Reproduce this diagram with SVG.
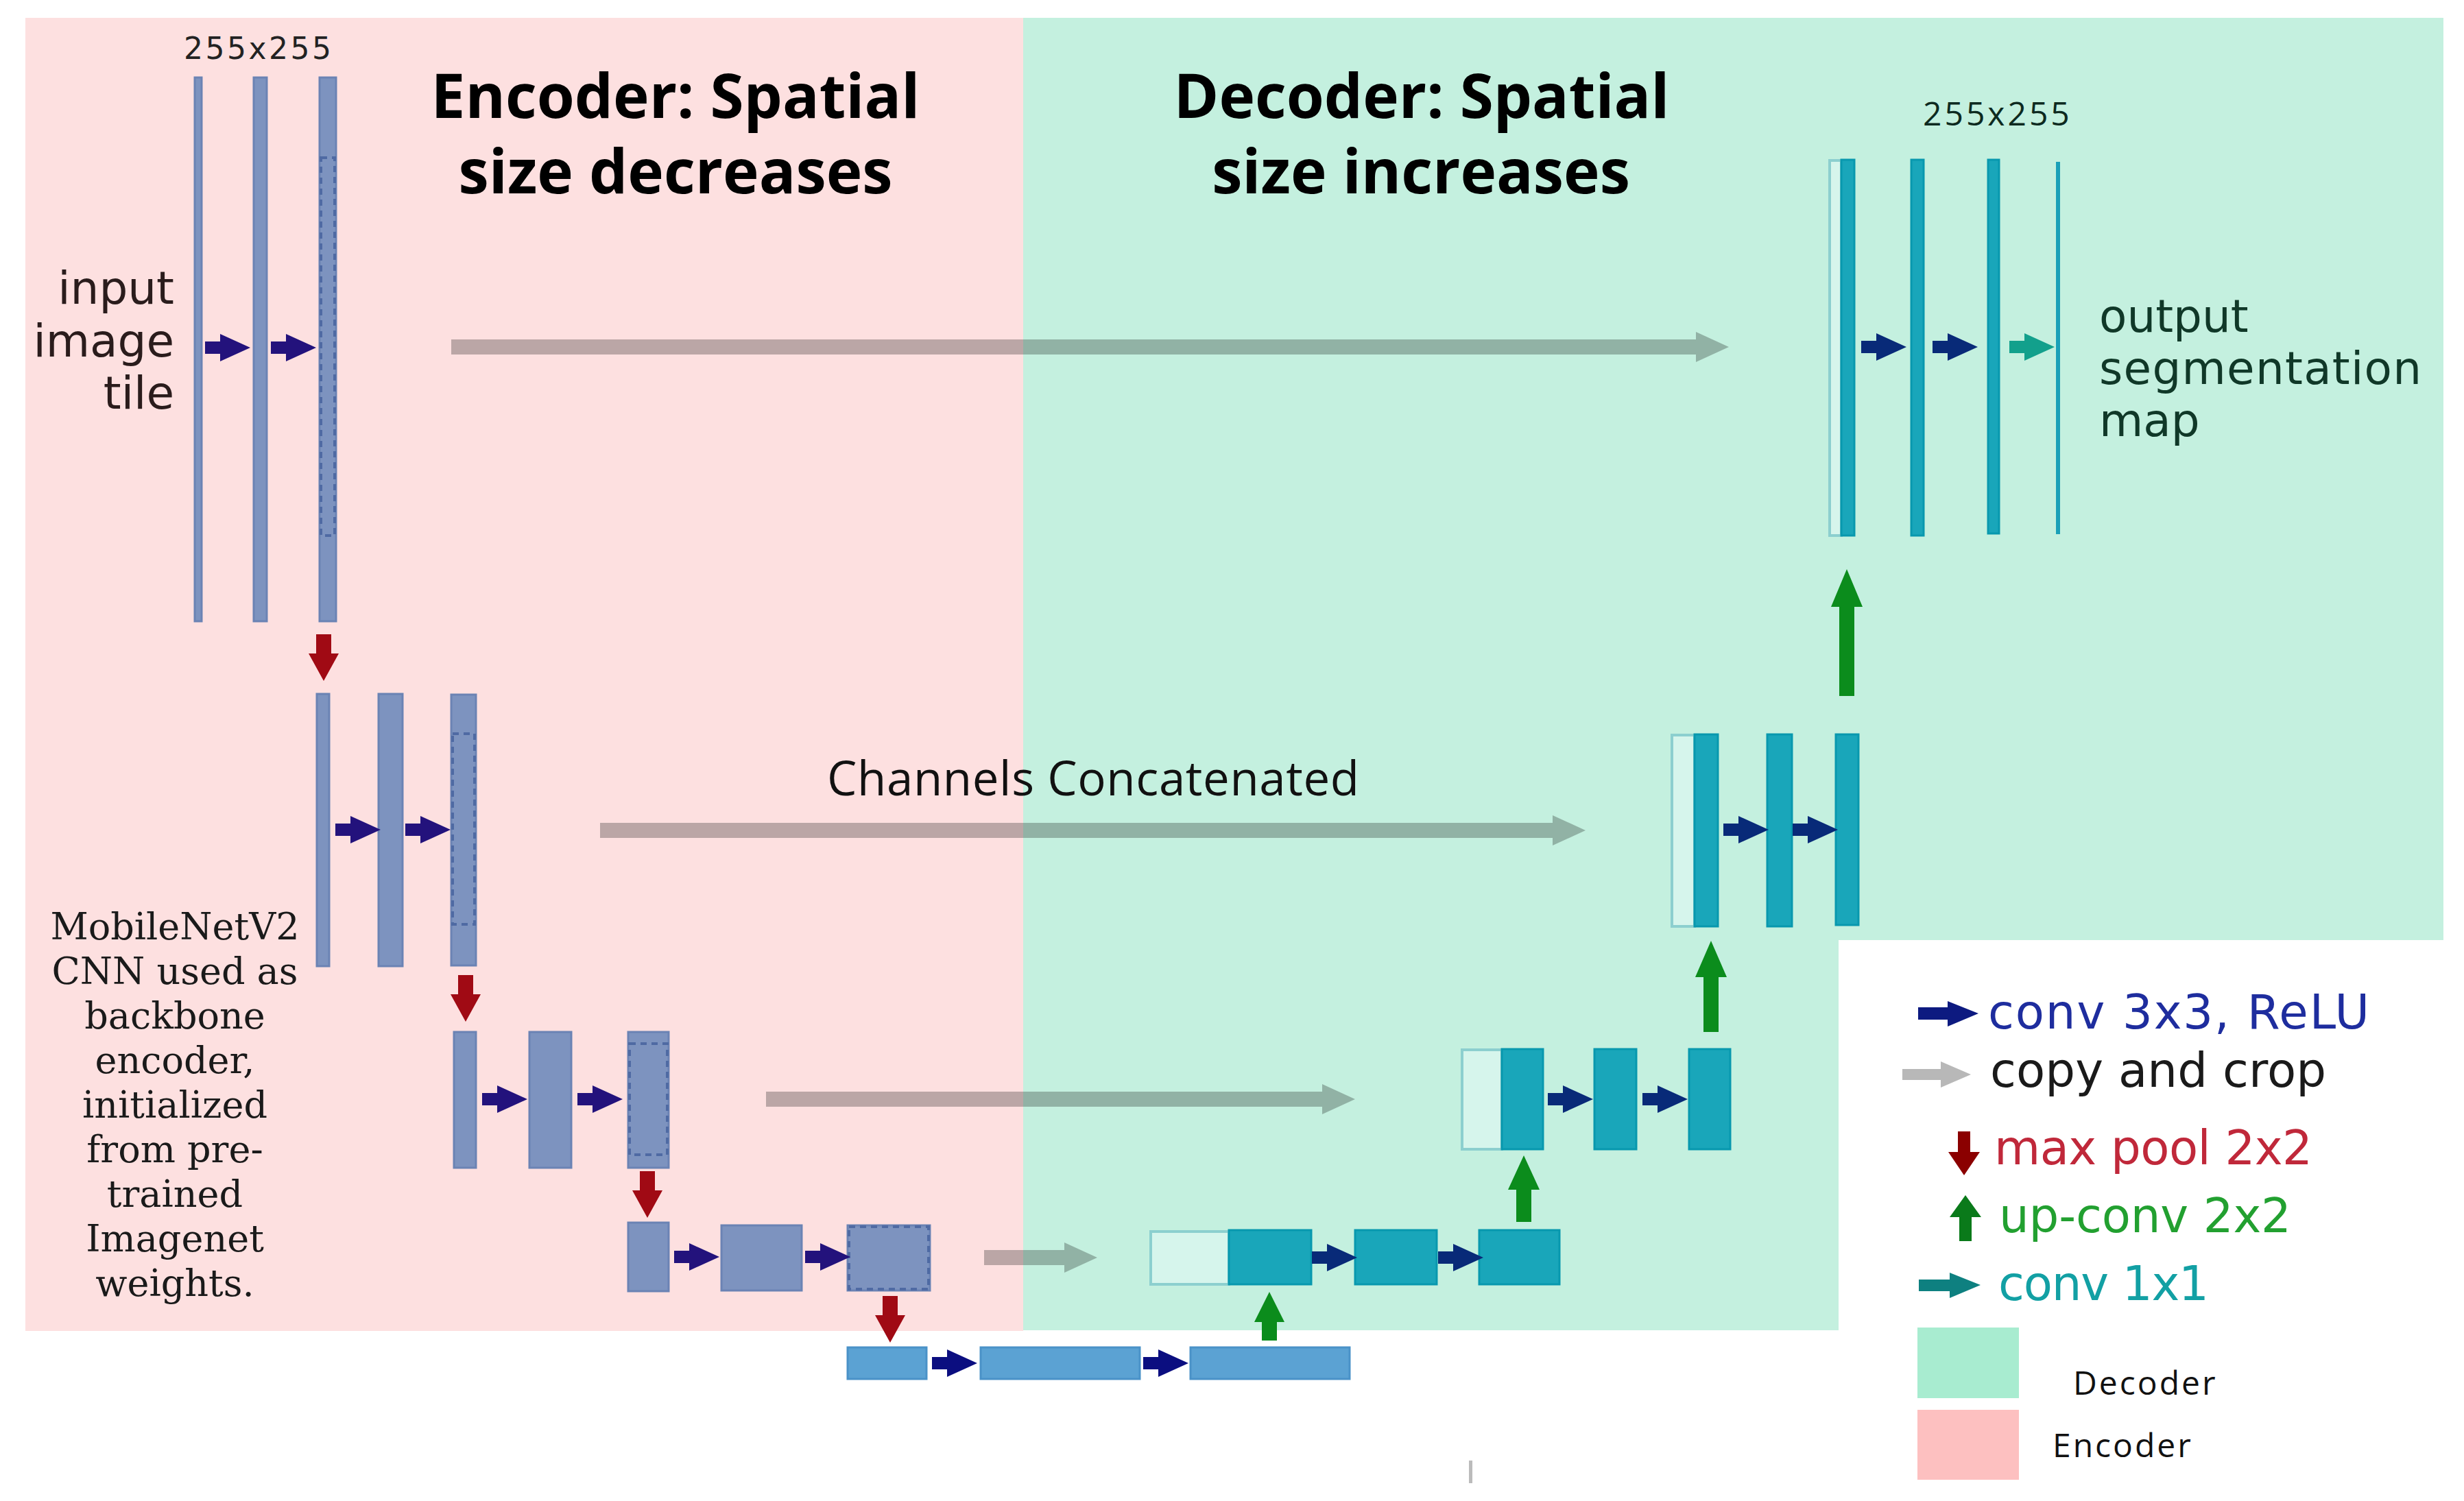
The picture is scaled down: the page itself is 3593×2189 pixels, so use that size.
<svg xmlns="http://www.w3.org/2000/svg" xmlns:xlink="http://www.w3.org/1999/xlink" width="3593" height="2189" viewBox="0 0 3593 2189">
<style>
.enc{fill:#7d93bf;stroke:#6b83b4;stroke-width:3}
.dash{fill:none;stroke:#4f6aa3;stroke-width:4;stroke-dasharray:9 7}
.dec{fill:#19a6ba;stroke:#0898ae;stroke-width:3}
.decout{fill:#d6f5ec;stroke:#8ccfcf;stroke-width:4}
.bot{fill:#5ba2d3;stroke:#4a92c8;stroke-width:3}
.copy{fill:#000;fill-opacity:0.26}
.pool{fill:#a00a14}
.up{fill:#0b8c1c}
.title{font-family:"Open Sans","Liberation Sans",sans-serif;font-weight:bold;font-size:89px;fill:#000;text-anchor:middle}
.side{font-family:"DejaVu Sans",sans-serif;font-size:66px}
.serif{font-family:"DejaVu Serif","Liberation Serif",serif;font-size:54px;fill:#1a1a1a;text-anchor:middle}
.leg{font-family:"DejaVu Sans",sans-serif;font-size:69px}
.legs{font-family:"Open Sans","Liberation Sans",sans-serif;font-size:48px;letter-spacing:3px;fill:#111}
</style>
<defs>
<path id="conv" d="M0,-9 H22 V-20 L66,0 L22,20 V9 H0 Z"/>
<path id="pool" d="M-11,0 H11 V28 H22 L0,68 L-22,28 H-11 Z"/>
</defs>
<rect x="0" y="0" width="3593" height="2189" fill="#ffffff"/>
<g id="backgrounds">
<rect x="37" y="26" width="1455" height="1915" fill="#fde0e0"/>
<rect x="1492" y="26" width="2071" height="1345" fill="#c4f0df"/>
<rect x="1492" y="1370" width="1189" height="570" fill="#c4f0df"/>
</g>
<g id="titles">
<text class="title" x="985" y="172">Encoder: Spatial</text>
<text class="title" x="985" y="282">size decreases</text>
<text class="title" x="2073" y="172">Decoder: Spatial</text>
<text class="title" x="2072" y="282">size increases</text>
</g>
<g id="input-label">
<text class="side" fill="#2a1c1c" text-anchor="end" x="254" y="443">input</text>
<text class="side" fill="#2a1c1c" text-anchor="end" x="254" y="520">image</text>
<text class="side" fill="#2a1c1c" text-anchor="end" x="254" y="596">tile</text>
<text x="268" y="86" font-family="DejaVu Sans,sans-serif" font-size="44" letter-spacing="3.5" fill="#222">255x255</text>
</g>
<g id="output-label">
<text class="side" fill="#103828" x="3061" y="484" font-size="68">output</text>
<text class="side" fill="#103828" x="3061" y="560" font-size="68" textLength="470">segmentation</text>
<text class="side" fill="#103828" x="3061" y="636" font-size="68">map</text>
<text x="2804" y="183" font-family="Open Sans,Liberation Sans,sans-serif" font-size="48" letter-spacing="4" fill="#0d2a20">255x255</text>
</g>
<g id="backbone-note">
<text class="serif" x="255" y="1370">MobileNetV2</text>
<text class="serif" x="255" y="1435">CNN used as</text>
<text class="serif" x="255" y="1500">backbone</text>
<text class="serif" x="255" y="1565">encoder,</text>
<text class="serif" x="255" y="1630">initialized</text>
<text class="serif" x="255" y="1695">from pre-</text>
<text class="serif" x="255" y="1760">trained</text>
<text class="serif" x="255" y="1825">Imagenet</text>
<text class="serif" x="255" y="1890">weights.</text>
</g>
<g id="enc-level1">
<rect class="enc" x="284" y="113" width="10" height="793"/>
<rect class="enc" x="370" y="113" width="19" height="793"/>
<rect class="enc" x="466" y="113" width="24" height="793"/>
<rect class="dash" x="468" y="230" width="20" height="551"/>
</g>
<g id="enc-level2">
<rect class="enc" x="462" y="1012" width="18" height="397"/>
<rect class="enc" x="552" y="1012" width="35" height="397"/>
<rect class="enc" x="658" y="1013" width="36" height="395"/>
<rect class="dash" x="660" y="1070" width="32" height="278"/>
</g>
<g id="enc-level3">
<rect class="enc" x="662" y="1505" width="32" height="198"/>
<rect class="enc" x="772" y="1505" width="61" height="198"/>
<rect class="enc" x="916" y="1505" width="59" height="198"/>
<rect class="dash" x="918" y="1522" width="55" height="162"/>
</g>
<g id="enc-level4">
<rect class="enc" x="916" y="1783" width="59" height="100"/>
<rect class="enc" x="1052" y="1787" width="117" height="95"/>
<rect class="enc" x="1236" y="1787" width="120" height="95"/>
<rect class="dash" x="1238" y="1789" width="116" height="91"/>
</g>
<g id="bottleneck">
<rect class="bot" x="1236" y="1965" width="115" height="46"/>
<rect class="bot" x="1430" y="1965" width="232" height="46"/>
<rect class="bot" x="1736" y="1965" width="232" height="46"/>
</g>
<g id="dec-level4">
<rect class="decout" x="1678" y="1796" width="114" height="77"/>
<rect class="dec" x="1792" y="1794" width="120" height="79"/>
<rect class="dec" x="1976" y="1794" width="119" height="79"/>
<rect class="dec" x="2157" y="1794" width="117" height="79"/>
</g>
<g id="dec-level3">
<rect class="decout" x="2132" y="1531" width="58" height="145"/>
<rect class="dec" x="2190" y="1530" width="60" height="146"/>
<rect class="dec" x="2325" y="1530" width="61" height="146"/>
<rect class="dec" x="2463" y="1530" width="60" height="146"/>
</g>
<g id="dec-level2">
<rect class="decout" x="2438" y="1072" width="33" height="279"/>
<rect class="dec" x="2471" y="1071" width="34" height="280"/>
<rect class="dec" x="2577" y="1071" width="36" height="280"/>
<rect class="dec" x="2677" y="1071" width="33" height="278"/>
</g>
<g id="dec-level1">
<rect class="decout" x="2668" y="234" width="17" height="547" stroke-width="3"/>
<rect class="dec" x="2685" y="233" width="19" height="548"/>
<rect class="dec" x="2787" y="233" width="18" height="548"/>
<rect class="dec" x="2899" y="233" width="16" height="545"/>
<rect x="2998" y="236" width="6" height="543" fill="#1aa0b8"/>
</g>
<g id="connectors">
<g fill="#23127c">
<use xlink:href="#conv" x="299" y="507"/>
<use xlink:href="#conv" x="395" y="507"/>
<use xlink:href="#conv" x="489" y="1210"/>
<use xlink:href="#conv" x="591" y="1210"/>
<use xlink:href="#conv" x="703" y="1603"/>
<use xlink:href="#conv" x="842" y="1603"/>
<use xlink:href="#conv" x="983" y="1833"/>
<use xlink:href="#conv" x="1174" y="1833"/>
</g>
<g fill="#0b0e80">
<use xlink:href="#conv" x="1359" y="1988"/>
<use xlink:href="#conv" x="1667" y="1988"/>
</g>
<g fill="#082a78">
<use xlink:href="#conv" x="1913" y="1834"/>
<use xlink:href="#conv" x="2097" y="1834"/>
<use xlink:href="#conv" x="2257" y="1603"/>
<use xlink:href="#conv" x="2395" y="1603"/>
<use xlink:href="#conv" x="2513" y="1210"/>
<use xlink:href="#conv" x="2614" y="1210"/>
<use xlink:href="#conv" x="2714" y="506"/>
<use xlink:href="#conv" x="2818" y="506"/>
</g>
<use xlink:href="#conv" x="2930" y="506" fill="#12a08c"/>
<g class="pool">
<use xlink:href="#pool" x="472" y="925"/>
<use xlink:href="#pool" x="679" y="1422"/>
<use xlink:href="#pool" x="944" y="1708"/>
<use xlink:href="#pool" x="1298" y="1890"/>
</g>
<g class="up">
<path d="M1840,1955 V1928 H1829 L1851,1884 L1873,1928 H1862 V1955 Z"/>
<path d="M2211,1782 V1735 H2199 L2222,1685 L2245,1735 H2233 V1782 Z"/>
<path d="M2484,1505 V1425 H2472 L2495,1372 L2518,1425 H2506 V1505 Z"/>
<path d="M2682,1015 V885 H2670 L2693,830 L2716,885 H2704 V1015 Z"/>
</g>
<g class="copy">
<path d="M658,495 H2473 V484 L2521,506 L2473,528 V517 H658 Z"/>
<path d="M875,1200 H2264 V1189 L2312,1211 L2264,1233 V1222 H875 Z"/>
<path d="M1117,1592 H1928 V1581 L1976,1603 L1928,1625 V1614 H1117 Z"/>
<path d="M1435,1823 H1552 V1812 L1600,1834 L1552,1856 V1845 H1435 Z"/>
</g>
</g>
<g id="concat-label">
<text x="1206" y="1160" font-family="Open Sans,Liberation Sans,sans-serif" font-size="69" fill="#111" textLength="776">Channels Concatenated</text>
</g>
<g id="legend">
<path d="M2797,1469 H2840 V1460 L2885,1478 L2840,1497 V1487 H2797 Z" fill="#0d1a80"/>
<text class="leg" x="2899" y="1500" fill="#1e2d9e" textLength="556">conv 3x3, ReLU</text>
<path d="M2774,1559 H2830 V1548 L2874,1567 L2830,1586 V1575 H2774 Z" fill="#b8b8b8"/>
<text class="leg" x="2902" y="1585" fill="#1a1a1a" textLength="490">copy and crop</text>
<path d="M2855,1650 H2873 V1680 H2887 L2864,1714 L2841,1680 H2855 Z" fill="#8b0000"/>
<text class="leg" x="2908" y="1698" fill="#c0283a" textLength="464">max pool 2x2</text>
<path d="M2857,1810 V1775 H2843 L2866,1743 L2889,1775 H2875 V1810 Z" fill="#0a7a1a"/>
<text class="leg" x="2915" y="1797" fill="#22a030" textLength="426">up-conv 2x2</text>
<path d="M2798,1866 H2843 V1856 L2888,1874 L2843,1893 V1883 H2798 Z" fill="#0e8080"/>
<text class="leg" x="2914" y="1896" fill="#12a0a4" textLength="307">conv 1x1</text>
<rect x="2796" y="1936" width="148" height="103" fill="#a8ecd0"/>
<text class="legs" x="3023" y="2034">Decoder</text>
<rect x="2796" y="2056" width="148" height="102" fill="#fdc0c0"/>
<text class="legs" x="2993" y="2125">Encoder</text>
</g>
<rect x="2142" y="2130" width="5" height="33" fill="#bbbbbb"/>
</svg>
